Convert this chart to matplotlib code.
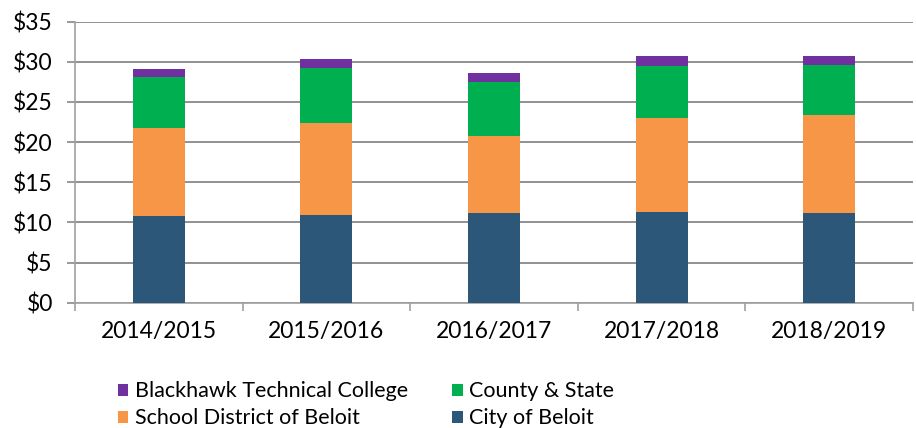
import matplotlib
matplotlib.use("Agg")
import matplotlib.pyplot as plt
from matplotlib.patches import Patch
import numpy as np

# Fiscal years and tax rate components ($ per $1,000)
years = ["2014/2015", "2015/2016", "2016/2017", "2017/2018", "2018/2019"]
city = [10.84, 10.96, 11.13, 11.33, 11.21]
school = [10.91, 11.42, 9.59, 11.67, 12.16]
county = [6.35, 6.88, 6.73, 6.48, 6.23]
btc = [1.00, 1.09, 1.12, 1.20, 1.16]

series = [
    ("City of Beloit", city, "#2C5779"),
    ("School District of Beloit", school, "#F79646"),
    ("County & State", county, "#00B050"),
    ("Blackhawk Technical College", btc, "#7030A0"),
]

plt.rcParams["font.family"] = ["Lato", "DejaVu Sans"]

fig = plt.figure(figsize=(9.16, 4.28), dpi=100)
ax = fig.add_axes([75 / 916, 125.3 / 428, 838 / 916, 281 / 428])

x = np.arange(len(years))
bottom = np.zeros(len(years))
for name, vals, col in series:
    ax.bar(x, vals, width=0.31, bottom=bottom, color=col, label=name, zorder=3)
    bottom += np.array(vals)

ax.set_xlim(-0.5, len(years) - 0.5)
ax.set_ylim(0, 35)
ax.set_yticks(np.arange(0, 36, 5))
ax.set_yticklabels(["$%d" % v for v in range(0, 36, 5)])
ax.yaxis.grid(True, color="#888888", linewidth=1.3, zorder=0)

ax.set_xticks(x)
ax.set_xticklabels(years)
ax.set_xticks(np.arange(-0.5, len(years)), minor=True)
ax.tick_params(axis="x", which="major", length=0, pad=13, labelsize=16.5)
ax.tick_params(axis="x", which="minor", length=6, width=1.2, color="#a0a0a0")
ax.tick_params(axis="y", length=6, width=1.2, color="#888888", pad=10, labelsize=16.5)

for s in ["top", "right"]:
    ax.spines[s].set_visible(False)
for s in ["left", "bottom"]:
    ax.spines[s].set_color("#a0a0a0")
    ax.spines[s].set_linewidth(1.2)

# legend order: BTC, School / County, City (filled by column)
lookup = {n: c for n, v, c in series}
order = ["Blackhawk Technical College", "School District of Beloit",
         "County & State", "City of Beloit"]
handles = [Patch(facecolor=lookup[n], label=n) for n in order]
fig.legend(handles=handles, ncol=2, loc="lower left",
           bbox_to_anchor=(109 / 916, -9 / 428), frameon=False, fontsize=15.5,
           handlelength=0.5, handleheight=0.5, handletextpad=0.3,
           columnspacing=2.05, labelspacing=0.33, borderaxespad=0)

fig.savefig("out.png", dpi=100)
